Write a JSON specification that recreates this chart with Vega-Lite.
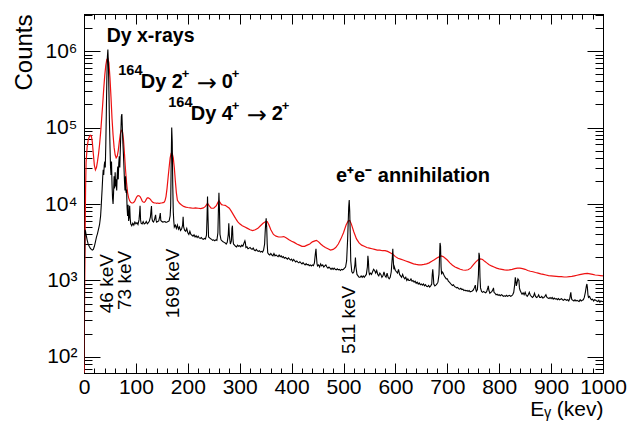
{
  "$schema": "https://vega.github.io/schema/vega-lite/v6.json",
  "width": 519,
  "height": 359,
  "autosize": "none",
  "padding": {"left": 84, "top": 14, "right": 37, "bottom": 50},
  "background": "white",
  "config": {
    "view": {"stroke": "black", "strokeWidth": 1},
    "font": "Liberation Sans",
    "axis": {"domainColor": "black", "tickColor": "black", "labelColor": "black", "titleColor": "black", "grid": false, "labelFont": "Liberation Sans", "titleFont": "Liberation Sans", "titleFontWeight": "normal", "tickWidth": 1, "domainWidth": 1, "labelOverlap": false, "labelBound": false, "labelFlush": false}
  },
  "datasets": {
    "red": [
      {"E":0,"C":62},{"E":1,"C":400},{"E":2,"C":3000},{"E":3,"C":15000},{"E":4,"C":35000},{"E":6,"C":55000},{"E":8,"C":68000},{"E":10,"C":75000},{"E":12,"C":79000},{"E":14,"C":78000},{"E":16,"C":65000},{"E":18,"C":45000},{"E":20,"C":32000},{"E":22,"C":28000},{"E":24,"C":30000},{"E":26,"C":36000},{"E":28,"C":45000},{"E":30,"C":60000},{"E":32,"C":85000},{"E":34,"C":130000},{"E":36,"C":200000},{"E":38,"C":320000},{"E":40,"C":480000},{"E":42,"C":650000},{"E":44,"C":780000},{"E":46,"C":800000},{"E":48,"C":700000},{"E":50,"C":450000},{"E":52,"C":250000},{"E":54,"C":130000},{"E":56,"C":80000},{"E":58,"C":55000},{"E":60,"C":44000},{"E":62,"C":40000},{"E":64,"C":42000},{"E":66,"C":50000},{"E":68,"C":65000},{"E":70,"C":82000},{"E":72,"C":92000},{"E":74,"C":90000},{"E":76,"C":70000},{"E":78,"C":45000},{"E":80,"C":28000},{"E":82,"C":19000},{"E":84,"C":14000},{"E":86,"C":12000},{"E":88,"C":11000},{"E":90,"C":10500},{"E":92,"C":10300},{"E":94,"C":10300},{"E":96,"C":10500},{"E":98,"C":11000},{"E":100,"C":11800},{"E":102,"C":12500},{"E":104,"C":12900},{"E":106,"C":12800},{"E":108,"C":12500},{"E":110,"C":11800},{"E":112,"C":11000},{"E":114,"C":10600},{"E":116,"C":10500},{"E":118,"C":10800},{"E":120,"C":11500},{"E":122,"C":12000},{"E":124,"C":12000},{"E":126,"C":11800},{"E":128,"C":11500},{"E":130,"C":11000},{"E":132,"C":10600},{"E":134,"C":10400},{"E":136,"C":10300},{"E":138,"C":10300},{"E":140,"C":10200},{"E":142,"C":10300},{"E":144,"C":10200},{"E":146,"C":10200},{"E":148,"C":10300},{"E":150,"C":10300},{"E":152,"C":10400},{"E":154,"C":10500},{"E":156,"C":11000},{"E":158,"C":12500},{"E":160,"C":16000},{"E":162,"C":22000},{"E":164,"C":30000},{"E":166,"C":40000},{"E":168,"C":46000},{"E":170,"C":46000},{"E":172,"C":40000},{"E":174,"C":30000},{"E":176,"C":20000},{"E":178,"C":14000},{"E":180,"C":11200},{"E":184,"C":10200},{"E":188,"C":9700},{"E":192,"C":9300},{"E":196,"C":9100},{"E":200,"C":9000},{"E":205,"C":8900},{"E":210,"C":8800},{"E":215,"C":8900},{"E":220,"C":8800},{"E":225,"C":8700},{"E":230,"C":8900},{"E":234,"C":9300},{"E":238,"C":10200},{"E":241,"C":9500},{"E":245,"C":8800},{"E":250,"C":8800},{"E":255,"C":9500},{"E":258,"C":10500},{"E":260,"C":11000},{"E":262,"C":10500},{"E":265,"C":9800},{"E":268,"C":9700},{"E":272,"C":9600},{"E":276,"C":9200},{"E":280,"C":8800},{"E":284,"C":8000},{"E":288,"C":7200},{"E":292,"C":6500},{"E":296,"C":5900},{"E":300,"C":5500},{"E":305,"C":5200},{"E":310,"C":5000},{"E":315,"C":4800},{"E":320,"C":4600},{"E":325,"C":4500},{"E":330,"C":4600},{"E":335,"C":4800},{"E":340,"C":5200},{"E":345,"C":5600},{"E":350,"C":5900},{"E":353,"C":5900},{"E":356,"C":5400},{"E":360,"C":4600},{"E":365,"C":4000},{"E":370,"C":3800},{"E":375,"C":3700},{"E":380,"C":3700},{"E":385,"C":3750},{"E":390,"C":3600},{"E":395,"C":3400},{"E":400,"C":3250},{"E":405,"C":3150},{"E":410,"C":3000},{"E":415,"C":2900},{"E":420,"C":2800},{"E":425,"C":2800},{"E":430,"C":2900},{"E":435,"C":3000},{"E":440,"C":3200},{"E":445,"C":3300},{"E":448,"C":3350},{"E":452,"C":3200},{"E":456,"C":3000},{"E":460,"C":2850},{"E":465,"C":2700},{"E":470,"C":2600},{"E":475,"C":2500},{"E":480,"C":2550},{"E":485,"C":2700},{"E":490,"C":3000},{"E":495,"C":3500},{"E":500,"C":4200},{"E":505,"C":5300},{"E":509,"C":6000},{"E":512,"C":6100},{"E":515,"C":5500},{"E":520,"C":4300},{"E":525,"C":3500},{"E":530,"C":3100},{"E":535,"C":2900},{"E":540,"C":2800},{"E":545,"C":2700},{"E":550,"C":2650},{"E":555,"C":2600},{"E":560,"C":2550},{"E":565,"C":2500},{"E":570,"C":2500},{"E":575,"C":2450},{"E":580,"C":2450},{"E":585,"C":2400},{"E":590,"C":2300},{"E":595,"C":2200},{"E":600,"C":2050},{"E":605,"C":1950},{"E":610,"C":1900},{"E":615,"C":1850},{"E":620,"C":1800},{"E":625,"C":1750},{"E":630,"C":1700},{"E":635,"C":1650},{"E":640,"C":1620},{"E":645,"C":1600},{"E":650,"C":1600},{"E":655,"C":1620},{"E":660,"C":1650},{"E":665,"C":1700},{"E":670,"C":1780},{"E":675,"C":1870},{"E":680,"C":1970},{"E":685,"C":2050},{"E":688,"C":2100},{"E":692,"C":2050},{"E":696,"C":1950},{"E":700,"C":1850},{"E":705,"C":1700},{"E":710,"C":1580},{"E":715,"C":1500},{"E":720,"C":1450},{"E":725,"C":1400},{"E":730,"C":1370},{"E":735,"C":1360},{"E":740,"C":1380},{"E":745,"C":1450},{"E":750,"C":1600},{"E":755,"C":1750},{"E":760,"C":1880},{"E":764,"C":1920},{"E":768,"C":1880},{"E":772,"C":1780},{"E":776,"C":1700},{"E":780,"C":1620},{"E":785,"C":1550},{"E":790,"C":1500},{"E":795,"C":1450},{"E":800,"C":1420},{"E":805,"C":1400},{"E":810,"C":1380},{"E":815,"C":1370},{"E":820,"C":1380},{"E":825,"C":1400},{"E":830,"C":1430},{"E":835,"C":1450},{"E":840,"C":1450},{"E":845,"C":1430},{"E":850,"C":1400},{"E":855,"C":1350},{"E":860,"C":1320},{"E":865,"C":1300},{"E":870,"C":1270},{"E":875,"C":1250},{"E":880,"C":1220},{"E":885,"C":1200},{"E":890,"C":1180},{"E":895,"C":1160},{"E":900,"C":1150},{"E":905,"C":1140},{"E":910,"C":1130},{"E":915,"C":1120},{"E":920,"C":1120},{"E":925,"C":1110},{"E":930,"C":1110},{"E":935,"C":1120},{"E":940,"C":1130},{"E":945,"C":1150},{"E":950,"C":1170},{"E":955,"C":1190},{"E":960,"C":1210},{"E":965,"C":1230},{"E":970,"C":1240},{"E":975,"C":1220},{"E":980,"C":1200},{"E":985,"C":1180},{"E":990,"C":1170},{"E":995,"C":1160},{"E":1000,"C":1150}
    ],
    "black": [
      {"E":0,"C":80},{"E":1,"C":1800},{"E":2,"C":4600},{"E":3,"C":4400},{"E":4,"C":4000},{"E":5,"C":3700},{"E":6,"C":3400},{"E":7,"C":3200},{"E":8,"C":3000},{"E":10,"C":2800},{"E":12,"C":2650},{"E":14,"C":2550},{"E":16,"C":2500},{"E":18,"C":2550},{"E":20,"C":2800},{"E":22,"C":3200},{"E":24,"C":3700},{"E":26,"C":4100},{"E":28,"C":4700},{"E":30,"C":5400},{"E":32,"C":7000},{"E":33,"C":9000},{"E":34,"C":12000},{"E":35,"C":16000},{"E":36,"C":22000},{"E":37,"C":28000},{"E":38,"C":24000},{"E":39,"C":32000},{"E":40,"C":36000},{"E":41,"C":30000},{"E":42,"C":60000},{"E":43,"C":150000},{"E":44,"C":420000},{"E":45,"C":820000},{"E":46,"C":1050000},{"E":47,"C":700000},{"E":48,"C":300000},{"E":49,"C":120000},{"E":50,"C":60000},{"E":51,"C":32000},{"E":52,"C":24000},{"E":53,"C":36000},{"E":54,"C":18000},{"E":55,"C":12000},{"E":56,"C":10000},{"E":57,"C":14000},{"E":58,"C":23000},{"E":59,"C":16000},{"E":60,"C":26000},{"E":61,"C":17000},{"E":62,"C":21000},{"E":63,"C":15000},{"E":64,"C":24000},{"E":65,"C":31000},{"E":66,"C":21000},{"E":67,"C":34000},{"E":68,"C":42000},{"E":69,"C":30000},{"E":70,"C":52000},{"E":71,"C":85000},{"E":72,"C":140000},{"E":73,"C":150000},{"E":74,"C":95000},{"E":75,"C":62000},{"E":76,"C":44000},{"E":77,"C":30000},{"E":78,"C":20000},{"E":79,"C":15000},{"E":80,"C":23000},{"E":81,"C":14000},{"E":82,"C":15500},{"E":83,"C":9000},{"E":84,"C":7000},{"E":85,"C":9800},{"E":86,"C":6000},{"E":87,"C":6800},{"E":88,"C":9500},{"E":89,"C":6500},{"E":90,"C":5500},{"E":92,"C":5200},{"E":94,"C":5600},{"E":96,"C":5300},{"E":98,"C":5800},{"E":100,"C":5500},{"E":102,"C":5700},{"E":104,"C":5400},{"E":106,"C":6200},{"E":107,"C":7500},{"E":108,"C":9500},{"E":109,"C":6200},{"E":110,"C":5600},{"E":112,"C":5500},{"E":114,"C":5900},{"E":116,"C":5500},{"E":118,"C":5600},{"E":120,"C":5900},{"E":122,"C":5500},{"E":124,"C":5700},{"E":126,"C":6000},{"E":128,"C":6800},{"E":129,"C":8000},{"E":130,"C":9400},{"E":131,"C":6500},{"E":132,"C":6000},{"E":134,"C":5800},{"E":136,"C":6300},{"E":137,"C":6800},{"E":138,"C":7200},{"E":139,"C":6100},{"E":140,"C":5800},{"E":142,"C":5900},{"E":144,"C":6000},{"E":146,"C":6900},{"E":147,"C":7600},{"E":148,"C":6100},{"E":150,"C":5900},{"E":152,"C":5800},{"E":154,"C":5850},{"E":156,"C":5900},{"E":158,"C":5750},{"E":160,"C":5800},{"E":162,"C":5900},{"E":164,"C":6000},{"E":166,"C":7000},{"E":167,"C":9500},{"E":168,"C":35000},{"E":169,"C":100000},{"E":170,"C":65000},{"E":171,"C":18000},{"E":172,"C":8000},{"E":173,"C":6000},{"E":174,"C":5000},{"E":176,"C":5300},{"E":178,"C":4800},{"E":180,"C":5300},{"E":182,"C":4700},{"E":184,"C":5000},{"E":186,"C":4500},{"E":188,"C":4700},{"E":190,"C":5300},{"E":191,"C":6800},{"E":192,"C":5000},{"E":194,"C":4500},{"E":196,"C":4400},{"E":198,"C":4800},{"E":200,"C":4200},{"E":202,"C":4000},{"E":204,"C":4400},{"E":206,"C":4000},{"E":208,"C":3900},{"E":210,"C":3800},{"E":212,"C":3950},{"E":214,"C":3700},{"E":216,"C":3850},{"E":218,"C":3650},{"E":220,"C":3800},{"E":222,"C":3600},{"E":224,"C":3550},{"E":226,"C":3650},{"E":228,"C":3500},{"E":230,"C":3450},{"E":232,"C":3550},{"E":234,"C":3500},{"E":236,"C":3900},{"E":237,"C":6500},{"E":238,"C":12500},{"E":239,"C":6500},{"E":240,"C":3700},{"E":242,"C":3600},{"E":244,"C":3500},{"E":246,"C":3450},{"E":248,"C":3350},{"E":250,"C":3400},{"E":252,"C":3300},{"E":254,"C":3400},{"E":256,"C":3350},{"E":258,"C":4200},{"E":259,"C":8500},{"E":260,"C":14000},{"E":261,"C":8500},{"E":262,"C":4000},{"E":264,"C":3400},{"E":266,"C":3300},{"E":268,"C":3200},{"E":270,"C":3150},{"E":272,"C":3100},{"E":274,"C":3000},{"E":276,"C":3150},{"E":278,"C":4000},{"E":279,"C":5600},{"E":280,"C":3900},{"E":282,"C":3000},{"E":284,"C":3300},{"E":285,"C":4800},{"E":286,"C":5200},{"E":287,"C":3500},{"E":288,"C":3000},{"E":290,"C":2900},{"E":292,"C":2800},{"E":294,"C":2750},{"E":296,"C":2900},{"E":298,"C":2800},{"E":300,"C":2850},{"E":302,"C":2750},{"E":304,"C":2900},{"E":306,"C":2800},{"E":308,"C":3050},{"E":310,"C":3300},{"E":311,"C":3100},{"E":312,"C":2700},{"E":314,"C":2750},{"E":316,"C":2600},{"E":318,"C":2650},{"E":320,"C":2700},{"E":322,"C":2600},{"E":324,"C":2550},{"E":326,"C":2650},{"E":328,"C":2500},{"E":330,"C":2450},{"E":332,"C":2550},{"E":334,"C":2450},{"E":336,"C":2400},{"E":338,"C":2450},{"E":340,"C":2350},{"E":342,"C":2400},{"E":344,"C":2350},{"E":346,"C":2500},{"E":348,"C":3000},{"E":349,"C":4200},{"E":350,"C":5500},{"E":351,"C":6500},{"E":352,"C":5000},{"E":353,"C":3000},{"E":354,"C":2300},{"E":356,"C":2200},{"E":358,"C":2150},{"E":360,"C":2250},{"E":362,"C":2150},{"E":364,"C":2100},{"E":366,"C":2250},{"E":368,"C":2100},{"E":370,"C":2150},{"E":372,"C":2100},{"E":374,"C":2050},{"E":376,"C":2150},{"E":378,"C":2050},{"E":380,"C":2100},{"E":382,"C":2000},{"E":384,"C":2050},{"E":386,"C":1950},{"E":388,"C":2000},{"E":390,"C":1950},{"E":392,"C":1900},{"E":394,"C":1980},{"E":396,"C":1900},{"E":398,"C":1850},{"E":400,"C":1900},{"E":402,"C":1800},{"E":404,"C":1880},{"E":406,"C":1800},{"E":408,"C":1750},{"E":410,"C":1800},{"E":412,"C":1740},{"E":414,"C":1700},{"E":416,"C":1760},{"E":418,"C":1700},{"E":420,"C":1650},{"E":422,"C":1710},{"E":424,"C":1650},{"E":426,"C":1600},{"E":428,"C":1660},{"E":430,"C":1600},{"E":432,"C":1620},{"E":434,"C":1560},{"E":436,"C":1600},{"E":438,"C":1550},{"E":440,"C":1600},{"E":442,"C":1560},{"E":444,"C":1700},{"E":445,"C":2000},{"E":446,"C":2300},{"E":447,"C":2600},{"E":448,"C":2000},{"E":449,"C":1650},{"E":450,"C":1550},{"E":452,"C":1600},{"E":454,"C":1500},{"E":456,"C":1650},{"E":458,"C":1550},{"E":460,"C":1600},{"E":462,"C":1500},{"E":464,"C":1550},{"E":466,"C":1600},{"E":468,"C":1500},{"E":470,"C":1450},{"E":472,"C":1500},{"E":474,"C":1450},{"E":476,"C":1400},{"E":478,"C":1450},{"E":480,"C":1400},{"E":482,"C":1450},{"E":484,"C":1400},{"E":486,"C":1380},{"E":488,"C":1420},{"E":490,"C":1380},{"E":492,"C":1400},{"E":494,"C":1350},{"E":496,"C":1400},{"E":498,"C":1380},{"E":500,"C":1400},{"E":502,"C":1450},{"E":504,"C":1500},{"E":506,"C":1800},{"E":508,"C":3500},{"E":510,"C":9000},{"E":511,"C":11300},{"E":512,"C":8000},{"E":513,"C":4000},{"E":514,"C":1800},{"E":516,"C":1300},{"E":518,"C":1250},{"E":520,"C":1300},{"E":522,"C":1600},{"E":523,"C":2000},{"E":524,"C":1500},{"E":526,"C":1200},{"E":528,"C":1150},{"E":530,"C":1100},{"E":532,"C":1100},{"E":534,"C":1150},{"E":536,"C":1100},{"E":538,"C":1150},{"E":540,"C":1100},{"E":542,"C":1150},{"E":544,"C":1200},{"E":546,"C":1500},{"E":547,"C":2100},{"E":548,"C":1800},{"E":549,"C":1300},{"E":550,"C":1200},{"E":552,"C":1250},{"E":554,"C":1200},{"E":556,"C":1300},{"E":558,"C":1400},{"E":560,"C":1350},{"E":562,"C":1250},{"E":564,"C":1350},{"E":566,"C":1200},{"E":568,"C":1150},{"E":570,"C":1250},{"E":572,"C":1200},{"E":574,"C":1100},{"E":576,"C":1150},{"E":578,"C":1300},{"E":580,"C":1150},{"E":582,"C":1100},{"E":584,"C":1250},{"E":586,"C":1100},{"E":588,"C":1050},{"E":590,"C":1100},{"E":592,"C":1300},{"E":594,"C":2000},{"E":595,"C":2600},{"E":596,"C":1800},{"E":597,"C":1400},{"E":598,"C":1500},{"E":600,"C":1350},{"E":602,"C":1300},{"E":604,"C":1250},{"E":606,"C":1400},{"E":608,"C":1200},{"E":610,"C":1150},{"E":612,"C":1100},{"E":614,"C":1200},{"E":616,"C":1100},{"E":618,"C":1050},{"E":620,"C":1100},{"E":622,"C":1000},{"E":624,"C":1050},{"E":626,"C":1000},{"E":628,"C":1000},{"E":630,"C":1050},{"E":632,"C":980},{"E":634,"C":1000},{"E":636,"C":950},{"E":638,"C":980},{"E":640,"C":920},{"E":642,"C":950},{"E":644,"C":900},{"E":646,"C":930},{"E":648,"C":880},{"E":650,"C":900},{"E":652,"C":870},{"E":654,"C":900},{"E":656,"C":850},{"E":658,"C":880},{"E":660,"C":840},{"E":662,"C":830},{"E":664,"C":860},{"E":666,"C":820},{"E":668,"C":850},{"E":670,"C":900},{"E":671,"C":1200},{"E":672,"C":1400},{"E":673,"C":1150},{"E":674,"C":900},{"E":676,"C":850},{"E":678,"C":870},{"E":680,"C":900},{"E":682,"C":950},{"E":684,"C":1200},{"E":685,"C":2000},{"E":686,"C":3100},{"E":687,"C":2800},{"E":688,"C":1500},{"E":689,"C":1200},{"E":690,"C":1300},{"E":692,"C":1250},{"E":694,"C":1150},{"E":696,"C":1100},{"E":698,"C":1050},{"E":700,"C":1050},{"E":702,"C":980},{"E":704,"C":950},{"E":706,"C":920},{"E":708,"C":880},{"E":710,"C":860},{"E":712,"C":880},{"E":714,"C":830},{"E":716,"C":820},{"E":718,"C":800},{"E":720,"C":810},{"E":722,"C":780},{"E":724,"C":770},{"E":726,"C":790},{"E":728,"C":760},{"E":730,"C":770},{"E":732,"C":740},{"E":734,"C":750},{"E":736,"C":730},{"E":738,"C":740},{"E":740,"C":720},{"E":742,"C":740},{"E":744,"C":710},{"E":746,"C":720},{"E":748,"C":730},{"E":750,"C":750},{"E":752,"C":800},{"E":754,"C":870},{"E":755,"C":760},{"E":756,"C":720},{"E":758,"C":760},{"E":760,"C":1200},{"E":761,"C":2300},{"E":762,"C":2100},{"E":763,"C":1100},{"E":764,"C":800},{"E":766,"C":720},{"E":768,"C":700},{"E":770,"C":720},{"E":772,"C":700},{"E":774,"C":690},{"E":776,"C":720},{"E":778,"C":800},{"E":779,"C":850},{"E":780,"C":750},{"E":782,"C":680},{"E":784,"C":700},{"E":786,"C":720},{"E":788,"C":760},{"E":789,"C":800},{"E":790,"C":700},{"E":792,"C":680},{"E":794,"C":650},{"E":796,"C":660},{"E":798,"C":640},{"E":800,"C":650},{"E":802,"C":630},{"E":804,"C":650},{"E":806,"C":640},{"E":808,"C":620},{"E":810,"C":630},{"E":812,"C":620},{"E":814,"C":640},{"E":816,"C":620},{"E":818,"C":630},{"E":820,"C":640},{"E":822,"C":620},{"E":824,"C":630},{"E":826,"C":650},{"E":828,"C":700},{"E":830,"C":900},{"E":831,"C":1100},{"E":832,"C":1000},{"E":833,"C":850},{"E":834,"C":900},{"E":836,"C":1050},{"E":838,"C":1000},{"E":839,"C":800},{"E":840,"C":750},{"E":842,"C":700},{"E":844,"C":660},{"E":846,"C":690},{"E":848,"C":650},{"E":850,"C":700},{"E":852,"C":640},{"E":854,"C":620},{"E":856,"C":650},{"E":858,"C":700},{"E":860,"C":640},{"E":862,"C":620},{"E":864,"C":600},{"E":866,"C":620},{"E":868,"C":680},{"E":870,"C":620},{"E":872,"C":600},{"E":874,"C":610},{"E":876,"C":650},{"E":878,"C":600},{"E":880,"C":600},{"E":882,"C":620},{"E":884,"C":590},{"E":886,"C":600},{"E":888,"C":620},{"E":890,"C":650},{"E":892,"C":600},{"E":894,"C":590},{"E":896,"C":580},{"E":898,"C":600},{"E":900,"C":580},{"E":902,"C":600},{"E":904,"C":570},{"E":906,"C":590},{"E":908,"C":570},{"E":910,"C":580},{"E":912,"C":560},{"E":914,"C":580},{"E":916,"C":560},{"E":918,"C":570},{"E":920,"C":580},{"E":922,"C":560},{"E":924,"C":550},{"E":926,"C":570},{"E":928,"C":560},{"E":930,"C":550},{"E":932,"C":560},{"E":934,"C":540},{"E":936,"C":580},{"E":937,"C":650},{"E":938,"C":700},{"E":939,"C":600},{"E":940,"C":560},{"E":942,"C":550},{"E":944,"C":540},{"E":946,"C":560},{"E":948,"C":540},{"E":950,"C":550},{"E":952,"C":540},{"E":954,"C":530},{"E":956,"C":560},{"E":958,"C":540},{"E":960,"C":550},{"E":962,"C":560},{"E":964,"C":600},{"E":966,"C":700},{"E":968,"C":850},{"E":969,"C":900},{"E":970,"C":800},{"E":971,"C":650},{"E":972,"C":600},{"E":974,"C":620},{"E":976,"C":580},{"E":978,"C":560},{"E":980,"C":570},{"E":982,"C":540},{"E":984,"C":560},{"E":986,"C":550},{"E":988,"C":540},{"E":990,"C":530},{"E":992,"C":550},{"E":994,"C":520},{"E":996,"C":540},{"E":998,"C":530},{"E":1000,"C":530}
    ],
    "xrays": [{"label": "Dy x-rays", "E": 43.7, "C": 1323000}],
    "annih": [{"label": "e⁺e⁻ annihilation", "E": 485.5, "C": 19200}],
    "trans": [
      {"iso": "164", "main": "Dy 2", "sup": "+", "arrow": "→", "fin": "0", "E": 66.1, "C": 325000},
      {"iso": "164", "main": "Dy 4", "sup": "+", "arrow": "→", "fin": "2", "E": 162.4, "C": 125400}
    ],
    "kev": [
      {"label": "46 keV", "E": 44.9, "C": 373},
      {"label": "73 keV", "E": 79, "C": 411},
      {"label": "169 keV", "E": 172.1, "C": 321},
      {"label": "511 keV", "E": 511.2, "C": 109}
    ]
  },
  "layer": [
    {
      "data": {"name": "red"},
      "mark": {"type": "line", "color": "#ee1111", "strokeWidth": 1.2, "clip": true},
      "encoding": {
        "x": {"field": "E", "type": "quantitative", "scale": {"domain": [0, 1000], "nice": false, "zero": false},
          "axis": {"orient": "bottom", "values": [0,100,200,300,400,500,600,700,800,900,1000], "format": "d",
            "tickSize": -10, "labelFontSize": 21, "labelPadding": 13,
            "title": "Eᵧ (kev)", "titleFontSize": 21, "titleAnchor": "end", "titlePadding": 1}},
        "y": {"field": "C", "type": "quantitative", "scale": {"type": "log", "domain": [61.7, 3050000], "nice": false},
          "axis": {"orient": "left", "values": [100,1000,10000,100000,1000000], "tickSize": -16,
            "labelExpr": "'10' + ['⁰','¹','²','³','⁴','⁵','⁶','⁷'][round(log(datum.value)/LN10)]",
            "labelFontSize": 21, "labelPadding": 23,
            "title": "Counts", "titleFontSize": 24, "titleAnchor": "end", "titlePadding": 8}}
      }
    },
    {
      "data": {"name": "black"},
      "mark": {"type": "line", "color": "black", "strokeWidth": 1.1, "clip": true},
      "encoding": {
        "x": {"field": "E", "type": "quantitative",
          "axis": {"orient": "top", "values": [0,100,200,300,400,500,600,700,800,900,1000], "tickSize": -10, "labels": false, "title": null}},
        "y": {"field": "C", "type": "quantitative",
          "axis": {"orient": "right", "values": [100,1000,10000,100000,1000000], "tickSize": -16, "labels": false, "title": null}}
      }
    },
    {
      "data": {"name": "kev"},
      "mark": {"type": "point", "opacity": 0},
      "encoding": {
        "x": {"field": "E", "type": "quantitative",
          "axis": {"orient": "bottom", "values": [20,40,60,80,120,140,160,180,220,240,260,280,320,340,360,380,420,440,460,480,520,540,560,580,620,640,660,680,720,740,760,780,820,840,860,880,920,940,960,980], "tickSize": -5, "labels": false, "title": null}},
        "y": {"field": "C", "type": "quantitative",
          "axis": {"orient": "left", "values": [70,80,90,200,300,400,500,600,700,800,900,2000,3000,4000,5000,6000,7000,8000,9000,20000,30000,40000,50000,60000,70000,80000,90000,200000,300000,400000,500000,600000,700000,800000,900000,2000000,3000000], "tickSize": -8, "labels": false, "title": null}}
      }
    },
    {
      "data": {"name": "kev"},
      "mark": {"type": "point", "opacity": 0},
      "encoding": {
        "x": {"field": "E", "type": "quantitative",
          "axis": {"orient": "top", "values": [20,40,60,80,120,140,160,180,220,240,260,280,320,340,360,380,420,440,460,480,520,540,560,580,620,640,660,680,720,740,760,780,820,840,860,880,920,940,960,980], "tickSize": -5, "labels": false, "title": null}},
        "y": {"field": "C", "type": "quantitative",
          "axis": {"orient": "right", "values": [70,80,90,200,300,400,500,600,700,800,900,2000,3000,4000,5000,6000,7000,8000,9000,20000,30000,40000,50000,60000,70000,80000,90000,200000,300000,400000,500000,600000,700000,800000,900000,2000000,3000000], "tickSize": -8, "labels": false, "title": null}}
      }
    },
    {
      "data": {"name": "xrays"},
      "mark": {"type": "text", "align": "left", "baseline": "alphabetic", "fontSize": 19.5, "fontWeight": "bold", "font": "Liberation Sans", "color": "black"},
      "encoding": {"x": {"field": "E", "type": "quantitative", "axis": null}, "y": {"field": "C", "type": "quantitative", "axis": null}, "text": {"field": "label"}}
    },
    {
      "data": {"name": "annih"},
      "mark": {"type": "text", "align": "left", "baseline": "alphabetic", "fontSize": 20, "fontWeight": "bold", "font": "Liberation Sans", "color": "black"},
      "encoding": {"x": {"field": "E", "type": "quantitative", "axis": null}, "y": {"field": "C", "type": "quantitative", "axis": null}, "text": {"field": "label"}}
    },
    {
      "data": {"name": "trans"},
      "mark": {"type": "text", "align": "left", "baseline": "alphabetic", "fontSize": 14.5, "fontWeight": "bold", "font": "Liberation Sans", "color": "black", "dy": -13},
      "encoding": {"x": {"field": "E", "type": "quantitative", "axis": null}, "y": {"field": "C", "type": "quantitative", "axis": null}, "text": {"field": "iso"}}
    },
    {
      "data": {"name": "trans"},
      "mark": {"type": "text", "align": "left", "baseline": "alphabetic", "fontSize": 20, "fontWeight": "bold", "font": "Liberation Sans", "color": "black", "dx": 22.4},
      "encoding": {"x": {"field": "E", "type": "quantitative", "axis": null}, "y": {"field": "C", "type": "quantitative", "axis": null}, "text": {"field": "main"}}
    },
    {
      "data": {"name": "trans"},
      "mark": {"type": "text", "align": "left", "baseline": "alphabetic", "fontSize": 13, "fontWeight": "bold", "font": "Liberation Sans", "color": "black", "dx": 63.4, "dy": -10.5},
      "encoding": {"x": {"field": "E", "type": "quantitative", "axis": null}, "y": {"field": "C", "type": "quantitative", "axis": null}, "text": {"field": "sup"}}
    },
    {
      "data": {"name": "trans"},
      "mark": {"type": "text", "align": "left", "baseline": "alphabetic", "fontSize": 24, "font": "DejaVu Sans", "color": "black", "dx": 78.4, "dy": 3},
      "encoding": {"x": {"field": "E", "type": "quantitative", "axis": null}, "y": {"field": "C", "type": "quantitative", "axis": null}, "text": {"field": "arrow"}}
    },
    {
      "data": {"name": "trans"},
      "mark": {"type": "text", "align": "left", "baseline": "alphabetic", "fontSize": 20, "fontWeight": "bold", "font": "Liberation Sans", "color": "black", "dx": 103.4},
      "encoding": {"x": {"field": "E", "type": "quantitative", "axis": null}, "y": {"field": "C", "type": "quantitative", "axis": null}, "text": {"field": "fin"}}
    },
    {
      "data": {"name": "trans"},
      "mark": {"type": "text", "align": "left", "baseline": "alphabetic", "fontSize": 13, "fontWeight": "bold", "font": "Liberation Sans", "color": "black", "dx": 113.4, "dy": -10.5},
      "encoding": {"x": {"field": "E", "type": "quantitative", "axis": null}, "y": {"field": "C", "type": "quantitative", "axis": null}, "text": {"field": "sup"}}
    },
    {
      "data": {"name": "kev"},
      "mark": {"type": "text", "align": "left", "baseline": "middle", "angle": 270, "fontSize": 19, "font": "Liberation Sans", "color": "black"},
      "encoding": {"x": {"field": "E", "type": "quantitative", "axis": null}, "y": {"field": "C", "type": "quantitative", "axis": null}, "text": {"field": "label"}}
    }
  ],
  "resolve": {"axis": {"x": "independent", "y": "independent"}}
}
